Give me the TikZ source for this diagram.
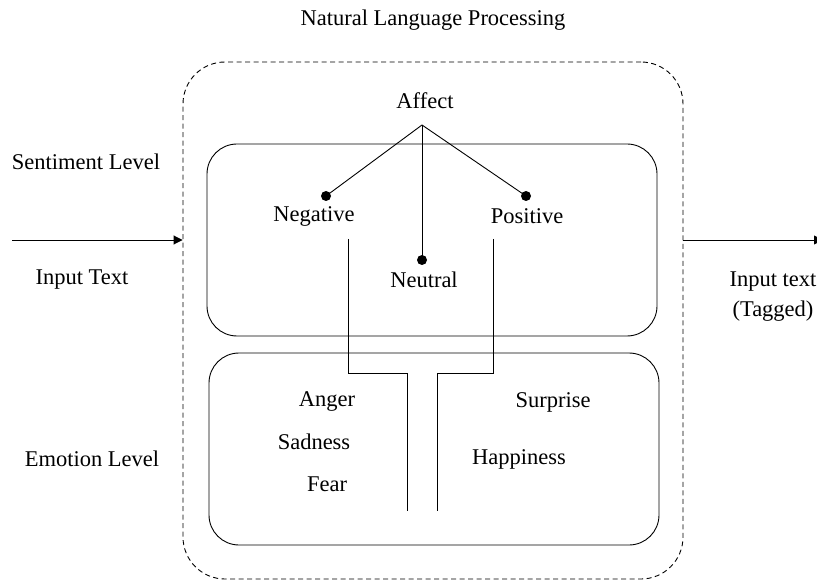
\documentclass[tikz,border=0pt]{standalone}
\usepackage{fontspec}
\setmainfont{Liberation Serif}
\usetikzlibrary{arrows.meta}
\begin{document}
\begin{tikzpicture}[x=1pt,y=-1pt,
  lbl/.style={inner sep=0pt,font=\fontsize{22.5}{26}\selectfont},
  innerbox/.style={draw,line width=0.9pt,rounded corners=30pt,minimum width=450pt,minimum height=192pt,inner sep=0pt},
  conn/.style={line width=0.9pt},
  dot/.style={circle,fill,inner sep=0pt,minimum size=10pt},
  flow/.style={line width=0.9pt,-{Triangle[length=9pt,width=9pt]}}]
\useasboundingbox (0,0) rectangle (817,580);
% outer dashed box
\node[draw,dash pattern=on 5pt off 3.5pt,line width=0.9pt,rounded corners=42pt,minimum width=500pt,minimum height=517pt,inner sep=0pt] (outer) at (433,320.5) {};
\node[lbl] (title) at (433,20) {Natural Language Processing};
% inner boxes
\node[innerbox] (sent) at (432,240) {};
\node[innerbox] (emo) at (434,449) {};
% affect tree
\node[lbl] (affect) at (425,101) {Affect};
\coordinate (root) at (422,125);
\node[dot] (dneg) at (326,196) {};
\node[dot] (dneu) at (422,260) {};
\node[dot] (dpos) at (526,196) {};
\draw[conn] (root) -- (dneg.center);
\draw[conn] (root) -- (dneu.center);
\draw[conn] (root) -- (dpos.center);
\node[lbl] (neg) at (314,216) {Negative};
\node[lbl] (pos) at (527,216) {Positive};
\node[lbl] (neu) at (424,280) {Neutral};
% channel lines
\coordinate (l1) at (348,239);
\coordinate (l2) at (348,373);
\coordinate (l3) at (407,373);
\coordinate (l4) at (407,511);
\coordinate (r1) at (493,239);
\coordinate (r2) at (493,373);
\coordinate (r3) at (437,373);
\coordinate (r4) at (437,511);
\draw[conn] (l1) -- (l2) -- (l3) -- (l4);
\draw[conn] (r1) -- (r2) -- (r3) -- (r4);
% emotions
\node[lbl] (anger) at (327,402) {Anger};
\node[lbl] (sad) at (314,442) {Sadness};
\node[lbl] (fear) at (327,484) {Fear};
\node[lbl] (surp) at (553,402) {Surprise};
\node[lbl] (happy) at (519,459) {Happiness};
% left labels
\node[lbl] (slevel) at (86,162) {Sentiment Level};
\node[lbl] (intext) at (82,280) {Input Text};
\node[lbl] (elevel) at (92,459) {Emotion Level};
% right labels
\node[lbl] (outtext) at (773,282) {Input text};
\node[lbl] (tagged) at (773,311) {(Tagged)};
% arrows
\coordinate (inStart) at (12,240);
\coordinate (outEnd) at (823,240);
\draw[flow] (inStart) -- (outer.west |- inStart);
\draw[flow] (outer.east |- outEnd) -- (outEnd);
\end{tikzpicture}
\end{document}
